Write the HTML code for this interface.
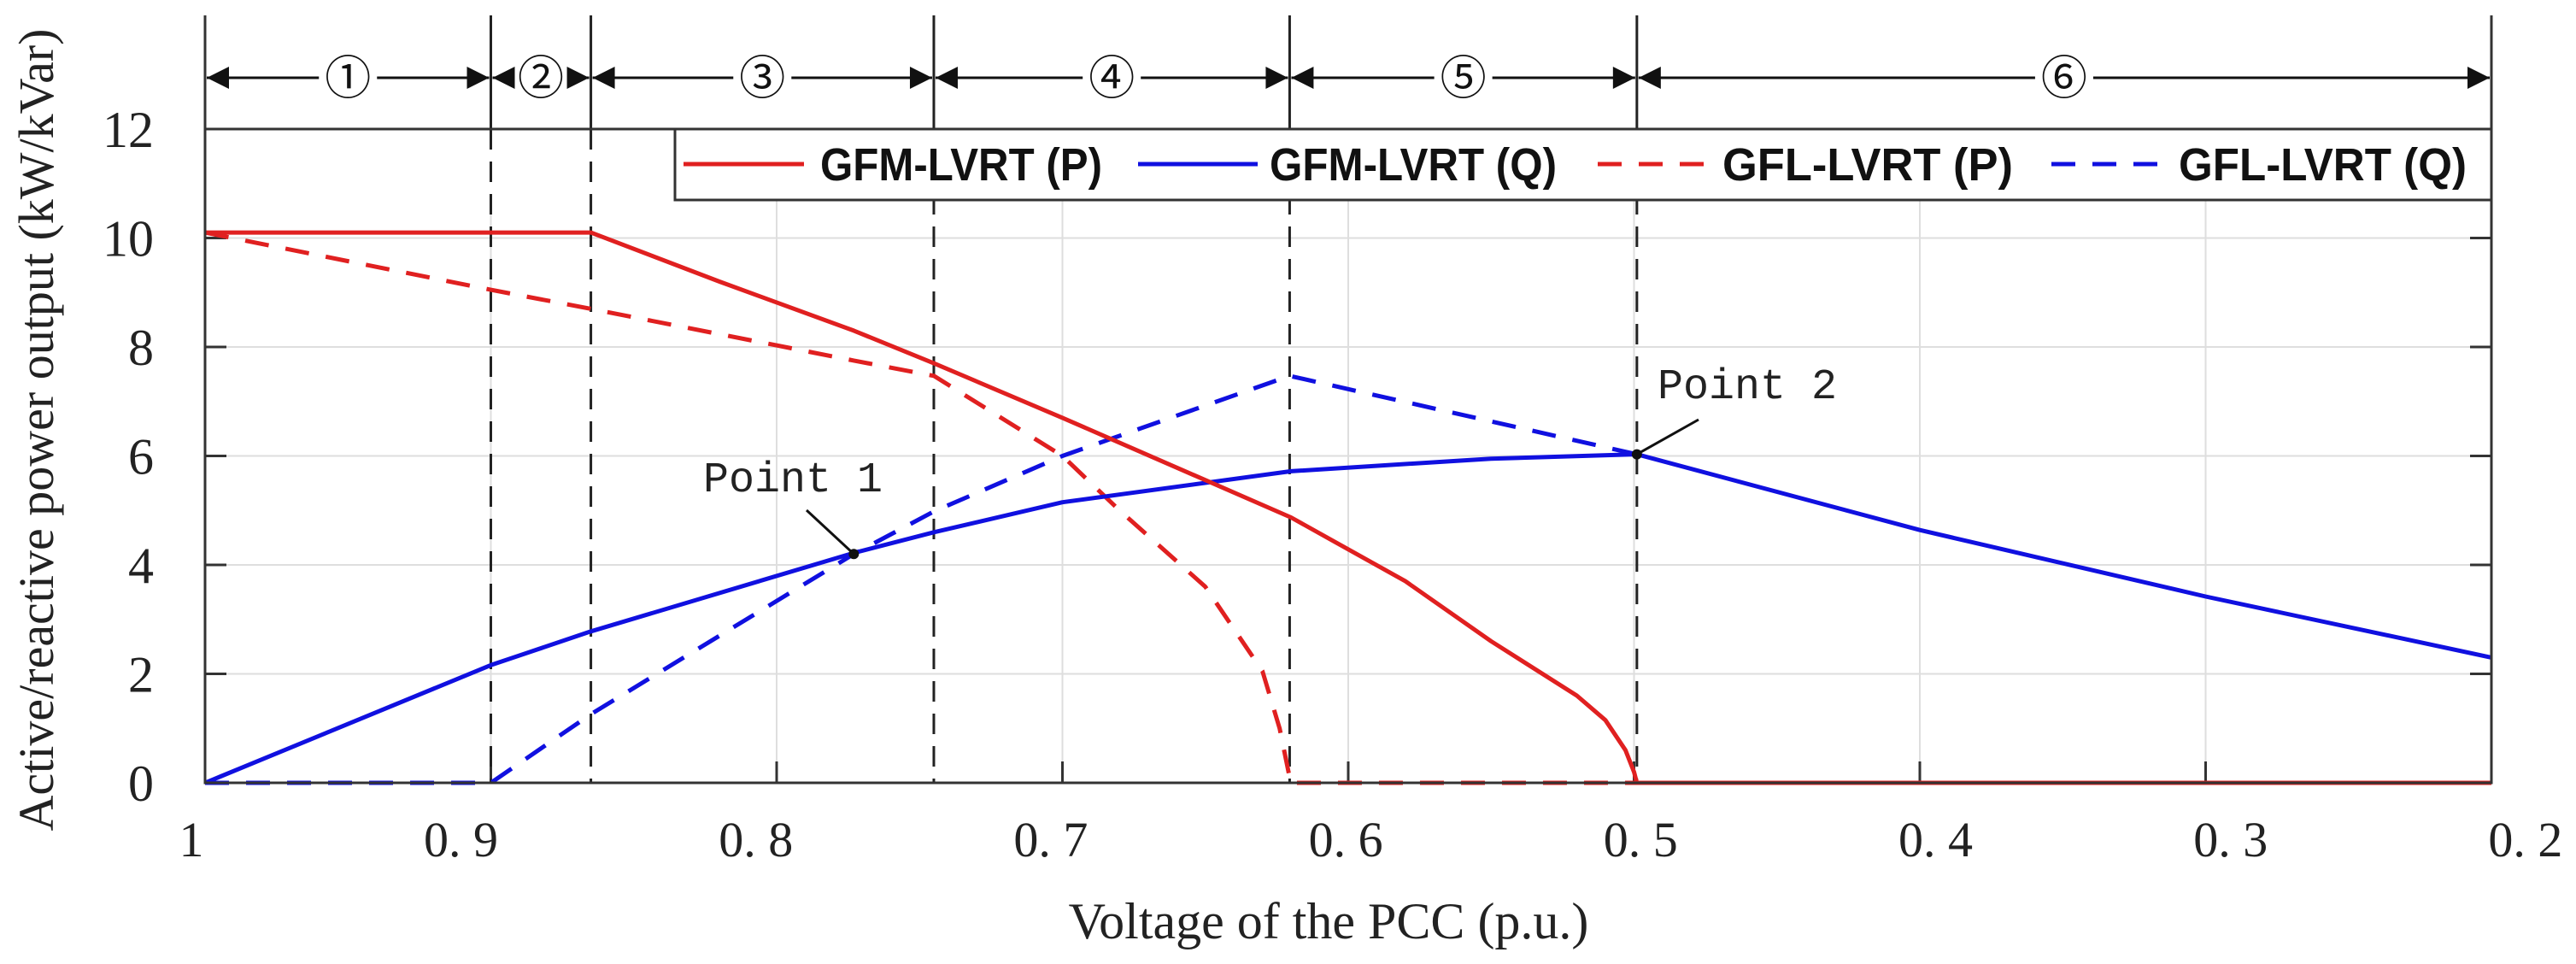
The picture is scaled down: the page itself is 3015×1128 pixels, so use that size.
<!DOCTYPE html>
<html><head><meta charset="utf-8"><style>
html,body{margin:0;padding:0;background:#fff;}
svg{display:block;}
</style></head><body>
<svg id="chart" width="3015" height="1128" viewBox="0 0 3015 1128" xmlns="http://www.w3.org/2000/svg">
</svg>
<script>
const xTicks=[1,0.9,0.8,0.7,0.6,0.5,0.4,0.3,0.2];
const xTickLabels=["1","0. 9","0. 8","0. 7","0. 6","0. 5","0. 4","0. 3","0. 2"];
const yTicks=[0,2,4,6,8,10,12];
const boundaries=[1,0.9,0.865,0.745,0.6205,0.499,0.2];
const regionLabels=["①","②","③","④","⑤","⑥"];
const gfmPV=[1,0.865,0.82,0.773,0.745,0.7,0.62,0.58,0.55,0.52,0.51,0.503,0.5,0.499,0.2];
const gfmPY=[10.1,10.1,9.2,8.3,7.7,6.7,4.87,3.7,2.6,1.6,1.15,0.6,0.2,0,0];
const gfmQV=[1,0.9,0.865,0.773,0.745,0.7,0.62,0.55,0.499,0.4,0.3,0.2];
const gfmQY=[0,2.16,2.78,4.22,4.6,5.15,5.72,5.95,6.03,4.64,3.42,2.3];
const gflPV=[1,0.9,0.865,0.773,0.745,0.7,0.68,0.65,0.63,0.624,0.6205,0.6205,0.499];
const gflPY=[10.1,9.05,8.7,7.75,7.47,6.0,5.0,3.6,2.05,1.0,0.1,0,0];
const gflQV=[1,0.9,0.865,0.82,0.773,0.745,0.7,0.6205,0.499];
const gflQY=[0,0,1.26,2.7,4.2,4.98,6.0,7.47,6.03];

const NS="http://www.w3.org/2000/svg";
const svg=document.getElementById('chart');
const L=240,R=2916,T=151,B=916,LEGB=234;
function X(v){return L+(1-v)/0.8*(R-L);}
function Y(v){return B-v/12*(B-T);}
function el(tag,attrs,parent){const e=document.createElementNS(NS,tag);for(const k in attrs)e.setAttribute(k,attrs[k]);(parent||svg).appendChild(e);return e;}

// grid
xTicks.forEach((v,i)=>{if(i>0&&i<xTicks.length-1){const g=el('line',{x1:X(v),x2:X(v),y1:LEGB,y2:B,stroke:'#dedede','stroke-width':2});

}});
yTicks.forEach((v,i)=>{if(v>0&&v<12){const g=el('line',{x1:L,x2:R,y1:Y(v),y2:Y(v),stroke:'#dedede','stroke-width':2});

}});

// ticks & labels
xTicks.forEach((v,i)=>{
  const t=el('line',{x1:X(v),x2:X(v),y1:B,y2:B-25,stroke:'#333','stroke-width':3});
  
  
  const off=(i===0)?-16:(-35+(0.9-v)*107);
  const tx=el('text',{x:X(v)+off,y:1002,'text-anchor':'middle','font-family':'"Liberation Serif",serif','font-size':58,fill:'#222'});
  tx.textContent=xTickLabels[i];
  
  
});
yTicks.forEach(v=>{
  const t=el('line',{x1:L,x2:L+25,y1:Y(v),y2:Y(v),stroke:'#333','stroke-width':3});
  
  
  const t2=el('line',{x1:R,x2:R-25,y1:Y(v),y2:Y(v),stroke:'#333','stroke-width':3});
  
  
  const tx=el('text',{x:180,y:Y(v)+21,'text-anchor':'end','font-family':'"Liberation Serif",serif','font-size':60,fill:'#222'});
  tx.textContent=String(v);
  
  
});

// region boundaries
boundaries.forEach((v,i)=>{
  if(i>0&&i<boundaries.length-1){
    const s=el('line',{x1:X(v),x2:X(v),y1:18,y2:T,stroke:'#222','stroke-width':3});
    
    
    const d=el('line',{x1:X(v),x2:X(v),y1:T,y2:B,stroke:'#222','stroke-width':3,'stroke-dasharray':'24,14'});
    
    
  }
});
boundaries.forEach((v,i)=>{
  if(i<boundaries.length-1){
    const a=X(v),b=X(boundaries[i+1]),m=(a+b)/2,y=91,hw=34;
    const ln=el('path',{d:`M${a+2},${y} L${m-hw},${y} M${m+hw},${y} L${b-2},${y}`,stroke:'#111','stroke-width':3,fill:'none'});
    
    
    const h1=el('path',{d:`M${a+2},${y} L${a+28},${y-13} L${a+28},${y+13}Z`,fill:'#111'});
    
    
    const h2=el('path',{d:`M${b-2},${y} L${b-28},${y-13} L${b-28},${y+13}Z`,fill:'#111'});
    
    
    const t=el('text',{x:m,y:y+19,'text-anchor':'middle','font-family':'"Liberation Sans","Noto Sans CJK SC",sans-serif','font-size':54,fill:'#111'});
    t.textContent=regionLabels[i];
    
    
  }
});

function series(vs,ys,color,dash,name){
  const d=vs.map((v,i)=>(i?'L':'M')+X(v).toFixed(1)+','+Y(ys[i]).toFixed(1)).join(' ');
  const p=el('path',{d:d,fill:'none',stroke:color,'stroke-width':5,'stroke-dasharray':dash||'none','stroke-linejoin':'round'});
  
  
}
series(gflQV,gflQY,'#1010e0','28,20','gfl-q-line');
series(gflPV,gflPY,'#e02020','28,20','gfl-p-line');
series(gfmQV,gfmQY,'#1010e0',null,'gfm-q-line');
series(gfmPV,gfmPY,'#e02020',null,'gfm-p-line');

// axes box
const ax=el('path',{d:`M${L},18 L${L},${B} L${R},${B} L${R},18 M${L},${T} L${R},${T}`,fill:'none',stroke:'#333','stroke-width':3});



// annotations
function pt(v,q,tx,ty,lx1,ly1,label,name){
  const c=el('circle',{cx:X(v),cy:Y(q),r:6,fill:'#111'});
  
  
  const l=el('line',{x1:lx1,y1:ly1,x2:X(v),y2:Y(q),stroke:'#111','stroke-width':3});
  
  
  const t=el('text',{x:tx,y:ty,'font-family':'"Liberation Mono",monospace','font-size':50,fill:'#222'});
  t.textContent=label;
  
  
}
pt(0.773,4.2,823,575,944,597,'Point 1','point-1');
pt(0.499,6.03,1940,466,1988,491,'Point 2','point-2');
</script>
<div style="position:absolute;left:0;top:0;width:3015px;height:1128px;pointer-events:none;">
<svg width="3015" height="1128" xmlns="http://www.w3.org/2000/svg">
  <g>
    <rect x="790" y="151" width="2126" height="83" fill="#fff" stroke="#333" stroke-width="3"/>
    <line x1="800" y1="192" x2="941" y2="192" stroke="#e02020" stroke-width="5"/>
    <text x="960" y="211" textLength="330" lengthAdjust="spacingAndGlyphs" font-family="'Liberation Sans','Noto Sans CJK SC',sans-serif" font-weight="bold" font-size="54" fill="#111">GFM-LVRT (P)</text>
    <line x1="1332" y1="192" x2="1472" y2="192" stroke="#1010e0" stroke-width="5"/>
    <text x="1486" y="211" textLength="336" lengthAdjust="spacingAndGlyphs" font-family="'Liberation Sans','Noto Sans CJK SC',sans-serif" font-weight="bold" font-size="54" fill="#111">GFM-LVRT (Q)</text>
    <line x1="1870" y1="192" x2="2003" y2="192" stroke="#e02020" stroke-width="5" stroke-dasharray="28,20"/>
    <text x="2016" y="211" textLength="340" lengthAdjust="spacingAndGlyphs" font-family="'Liberation Sans','Noto Sans CJK SC',sans-serif" font-weight="bold" font-size="54" fill="#111">GFL-LVRT (P)</text>
    <line x1="2401" y1="192" x2="2534" y2="192" stroke="#1010e0" stroke-width="5" stroke-dasharray="28,20"/>
    <text x="2550" y="211" textLength="337" lengthAdjust="spacingAndGlyphs" font-family="'Liberation Sans','Noto Sans CJK SC',sans-serif" font-weight="bold" font-size="54" fill="#111">GFL-LVRT (Q)</text>
  </g>
  <text x="1555" y="1098" text-anchor="middle" font-family="'Liberation Serif',serif" font-size="60" fill="#222">Voltage of the PCC (p.u.)</text>
  <text transform="translate(62,503) rotate(-90)" text-anchor="middle" font-family="'Liberation Serif',serif" font-size="58" fill="#222">Active/reactive power output (kW/kVar)</text>
</svg>
</div>
</body></html>
